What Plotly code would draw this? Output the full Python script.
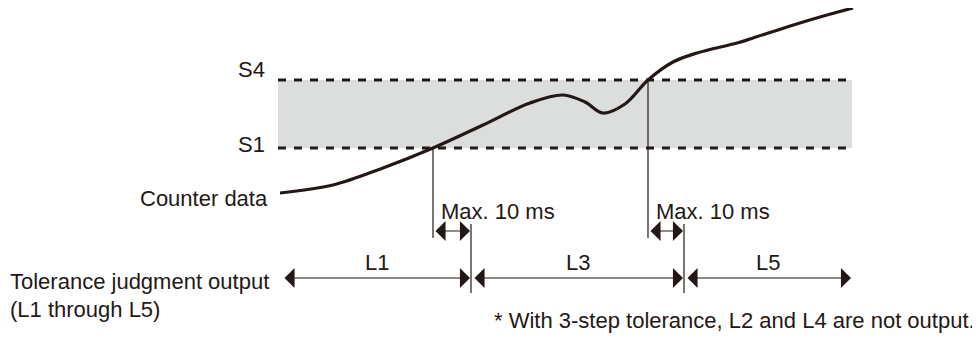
import plotly.graph_objects as go

# counter data curve (time px, level px; level axis runs downward)
curve_t = [280, 333, 383, 433, 483, 530, 563, 585, 603, 625, 648, 673, 697, 737, 753, 787, 820, 853]
curve_v = [193, 185, 168, 148, 125, 103, 95, 102, 113, 104, 80, 62, 53, 43, 38, 27, 17, 8]

# thresholds and the tolerance band
band_t = [278, 852]
s1_level = 148
s4_level = 80
threshold_labels = ["S1", "S4"]

# switching instants: curve crosses threshold, output follows within 10 ms
cross_t = [433, 648]
output_t = [471, 684]
delay_label = "Max. 10 ms"

# output segments
segment_labels = ["L1", "L3", "L5"]
segment_start = [283, 471, 684]
segment_end = [471, 684, 852]

INK = "#231815"
FONT = dict(family="Liberation Sans, Arial, sans-serif", size=22, color=INK)

# the page body keeps its default 8px margin, so the figure starts at (8, 8)
OFFSET = 8

fig = go.Figure()
fig.add_trace(go.Scatter(
    x=curve_t, y=curve_v, mode="lines",
    line=dict(color=INK, width=3.2, shape="spline", smoothing=1.0),
    hoverinfo="skip", showlegend=False,
))

shapes = [
    dict(type="rect", x0=band_t[0], x1=band_t[1], y0=s4_level, y1=s1_level,
         fillcolor="#dcdddd", line=dict(width=0), layer="below"),
]
for lvl in (s1_level, s4_level):
    shapes.append(dict(type="line", x0=band_t[0], x1=band_t[1], y0=lvl, y1=lvl,
                       line=dict(color=INK, width=3, dash="8px,8px"), layer="below"))
for i, (ct, ot) in enumerate(zip(cross_t, output_t)):
    top = s1_level if i == 0 else s4_level
    shapes.append(dict(type="line", x0=ct, x1=ct, y0=top, y1=238, line=dict(color=INK, width=1.2)))
    shapes.append(dict(type="line", x0=ot, x1=ot, y0=224, y1=293, line=dict(color=INK, width=1.2)))

annotations = []
arrow = dict(text="", showarrow=True, axref="x", ayref="y", xref="x", yref="y",
             arrowcolor=INK, arrowwidth=1.2, arrowhead=1, arrowsize=2.8,
             arrowside="end+start", startarrowhead=1, startarrowsize=2.8)
for ct, ot in zip(cross_t, output_t):
    annotations.append(dict(arrow, x=ot - 1, y=231, ax=ct + 1, ay=231))
    annotations.append(dict(text=delay_label, x=ct + 6, y=211, xanchor="left", yanchor="middle",
                            showarrow=False, font=FONT))
for i, (lab, s, e) in enumerate(zip(segment_labels, segment_start, segment_end)):
    gap = 0 if i == 0 else 2
    annotations.append(dict(arrow, x=e - 1, y=278, ax=s + gap, ay=278))
    annotations.append(dict(text=lab, x=(s + e) / 2, y=262, xanchor="center", yanchor="middle",
                            showarrow=False, font=FONT))

annotations += [
    dict(text=threshold_labels[1], x=267, y=69, xanchor="right", yanchor="middle", showarrow=False, font=FONT),
    dict(text=threshold_labels[0], x=267, y=144, xanchor="right", yanchor="middle", showarrow=False, font=FONT),
    dict(text="Counter data", x=270, y=198, xanchor="right", yanchor="middle", showarrow=False, font=FONT),
    dict(text="Tolerance judgment output", x=8, y=281, xanchor="left", yanchor="middle", showarrow=False, font=FONT),
    dict(text="(L1 through L5)", x=8, y=309, xanchor="left", yanchor="middle", showarrow=False, font=FONT),
    dict(text="* With 3-step tolerance, L2 and L4 are not output.", x=977, y=320, xanchor="right",
         yanchor="middle", showarrow=False, font=FONT),
]

fig.update_layout(
    width=980 - OFFSET, height=343 - OFFSET,
    margin=dict(l=0, r=0, t=0, b=0),
    paper_bgcolor="white", plot_bgcolor="white",
    xaxis=dict(range=[OFFSET, 980], visible=False, fixedrange=True),
    yaxis=dict(range=[343, OFFSET], visible=False, fixedrange=True),
    shapes=shapes, annotations=annotations,
)
fig.write_html("out.html", config={"displayModeBar": False})
